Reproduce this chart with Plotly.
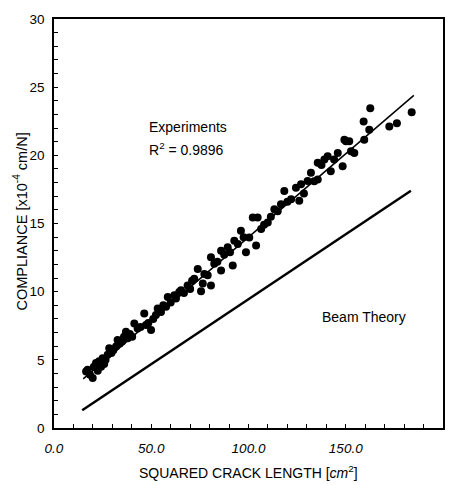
import plotly.graph_objects as go

# Experimental data: squared crack length [cm^2] vs compliance [x10^-4 cm/N]
exp_x = [16.5, 17.3, 18.5, 19.9, 20.5, 21.6, 22.5, 23.2, 24.2, 25.0, 25.8, 26.5, 27.6, 28.4,
         29.5, 30.5, 31.9, 32.7, 33.8, 35.0, 36.0, 37.0, 37.9, 39.0, 40.2, 41.3, 43.0, 44.5,
         46.4, 47.3, 48.5, 49.9, 51.0, 52.4, 53.3, 55.0, 56.2, 57.6, 58.5, 60.0, 61.9, 62.7,
         64.4, 65.3, 66.8, 68.7, 70.0, 71.0, 72.1, 73.9, 75.6, 76.5, 77.3, 79.0, 80.7, 80.7,
         82.4, 84.0, 85.9, 85.9, 87.5, 89.3, 90.5, 91.9, 92.7, 94.5, 96.1, 97.5, 98.7, 100.4,
         102.2, 103.9, 104.7, 106.5, 108.0, 109.9, 111.5, 113.3, 115.0, 116.7, 118.4, 120.0,
         121.9, 124.4, 126.1, 127.0, 128.5, 130.4, 132.1, 133.8, 135.6, 135.6, 137.5, 139.0,
         140.7, 142.3, 144.0, 145.9, 148.4, 149.3, 150.1, 151.8, 152.7, 154.4, 159.2, 159.5,
         162.1, 162.6, 172.4, 176.3, 183.9]
exp_y = [4.15, 4.27, 3.9, 3.66, 4.5, 4.76, 4.2, 4.9, 4.5, 5.12, 4.7, 5.0, 5.38, 5.85,
         5.5, 5.7, 5.97, 6.46, 6.2, 6.35, 6.7, 7.06, 6.58, 6.9, 6.7, 7.67, 7.3, 7.4,
         8.4, 7.55, 7.7, 7.19, 8.0, 8.28, 8.76, 8.5, 9.0, 8.89, 9.61, 9.2, 9.73, 9.5,
         9.98, 10.1, 9.9, 10.46, 10.2, 10.8, 10.95, 11.67, 10.03, 10.6, 11.3, 11.2, 10.46, 12.53,
         12.04, 12.2, 11.56, 13.01, 12.7, 13.26, 12.9, 11.92, 13.74, 13.5, 14.47, 14.0, 12.89, 13.98,
         15.44, 13.38, 15.44, 14.6, 14.9, 15.08, 15.5, 16.05, 15.9, 16.41, 17.38, 16.6,
         16.77, 17.63, 16.66, 17.87, 17.2, 18.11, 18.72, 18.1, 18.23, 19.45, 19.3, 19.69,
         19.93, 18.84, 19.7, 20.17, 19.2, 21.14, 21.03, 21.03, 20.3, 20.17, 22.48, 21.14,
         21.87, 23.45, 22.12, 22.36, 23.16]

# Fitted experimental line and beam theory line (end points)
fit_x = [15.0, 185.0]
fit_y = [3.6, 24.4]
beam_x = [14.5, 183.5]
beam_y = [1.3, 17.4]

x_ticks = [0, 50, 100, 150, 200]
x_tick_labels = ["<i>0.0</i>", "<i>50.0</i>", "<i>100.0</i>", "<i>150.0</i>", "<i>200.0</i>"]
y_ticks = [0, 5, 10, 15, 20, 25, 30]

FONT = "Liberation Sans, Arial, sans-serif"

fig = go.Figure()
fig.add_trace(go.Scatter(x=fit_x, y=fit_y, mode="lines",
                         line=dict(color="black", width=1.5), showlegend=False))
fig.add_trace(go.Scatter(x=beam_x, y=beam_y, mode="lines",
                         line=dict(color="black", width=2.5), showlegend=False))
fig.add_trace(go.Scatter(x=exp_x, y=exp_y, mode="markers",
                         marker=dict(color="black", size=8), showlegend=False))

L, R, T, B = 54, 443, 16, 428
W, H = 460, 485
pw, ph = R - L, B - T

fig.update_layout(
    width=W, height=H,
    margin=dict(l=L, r=W - R, t=T, b=H - B, pad=0),
    paper_bgcolor="white", plot_bgcolor="white",
    font=dict(family=FONT, size=13, color="black"),
    showlegend=False,
)
fig.update_xaxes(
    range=[0, 200], tickvals=x_ticks, ticktext=x_tick_labels,
    showgrid=False, zeroline=False,
    showline=True, linecolor="black", linewidth=1.5, mirror=True,
    ticks="inside", ticklen=4, tickwidth=1, tickcolor="black",
    ticklabelstandoff=7,
    minor=dict(dtick=10, ticks="inside", ticklen=4, tickwidth=1, tickcolor="black", showgrid=False),
    tickfont=dict(size=13.5),
)
fig.update_yaxes(
    range=[0, 30], tickvals=y_ticks,
    showgrid=False, zeroline=False,
    showline=True, linecolor="black", linewidth=1.5, mirror=True,
    ticks="inside", ticklen=4, tickwidth=1, tickcolor="black",
    ticklabelstandoff=5,
    minor=dict(dtick=1, ticks="inside", ticklen=4, tickwidth=1, tickcolor="black", showgrid=False),
    tickfont=dict(size=13.5),
)

def px2paper(px, py):
    return (px - L) / pw, (B - py) / ph

ann = []
xe, ye = px2paper(147, 125)
ann.append(dict(text="Experiments", x=xe, y=ye, xref="paper", yref="paper",
                xanchor="left", yanchor="middle", showarrow=False, font=dict(size=14)))
xe, ye = px2paper(147, 147)
ann.append(dict(text="R<sup>2</sup> = 0.9896", x=xe, y=ye, xref="paper", yref="paper",
                xanchor="left", yanchor="middle", showarrow=False, font=dict(size=14)))
xe, ye = px2paper(320, 316)
ann.append(dict(text="Beam Theory", x=xe, y=ye, xref="paper", yref="paper",
                xanchor="left", yanchor="middle", showarrow=False, font=dict(size=14)))
xe, ye = px2paper(248, 472)
ann.append(dict(text="SQUARED CRACK LENGTH [<i>cm</i><sup>2</sup>]", x=xe, y=ye,
                xref="paper", yref="paper", xanchor="center", yanchor="middle",
                showarrow=False, font=dict(size=14)))
xe, ye = px2paper(20, 220)
ann.append(dict(text="COMPLIANCE [x10<sup>-4</sup> cm/N]", x=xe, y=ye,
                xref="paper", yref="paper", xanchor="center", yanchor="middle",
                textangle=-90, showarrow=False, font=dict(size=14.5)))
fig.update_layout(annotations=ann)

fig.write_html("out.html")
